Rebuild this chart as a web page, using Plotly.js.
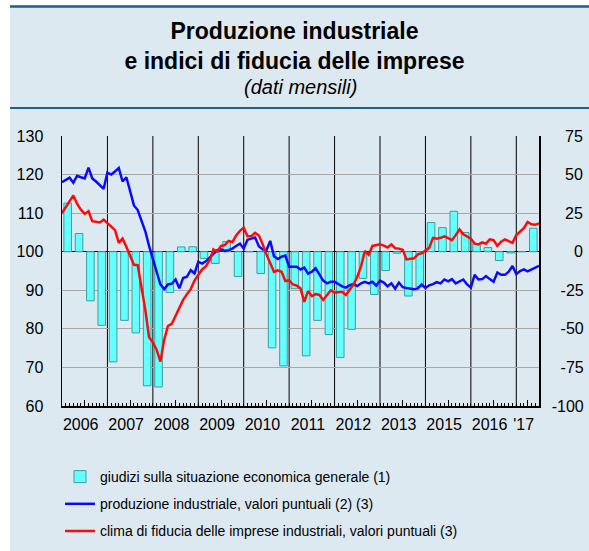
<!DOCTYPE html>
<html>
<head>
<meta charset="utf-8">
<script src="https://cdn.plot.ly/plotly-3.0.1.min.js"></script>
<style>
html,body{margin:0;padding:0;background:#ffffff;}
#chart{width:589px;height:551px;}
</style>
</head>
<body>
<div id="chart"></div>
<script>
// ---- DATA ----
const yearLabels = ['2006','2007','2008','2009','2010','2011','2012','2013','2015','2016',"'17"];
const axisEndMonth = 126;

// produzione industriale, valori puntuali (indice, scala sinistra), monthly
const produzione = [
  118.0,118.6,119.2,117.9,119.7,119.3,119.0,121.8,119.0,118.2,117.3,116.3,
  120.5,120.0,120.8,121.7,118.2,119.3,115.7,112.0,110.8,108.3,105.3,101.5,
  97.8,94.8,91.5,90.3,91.5,91.7,92.8,90.5,93.2,93.5,95.2,94.4,
  97.4,96.9,97.5,98.5,99.5,100.4,100.6,100.2,100.4,100.8,101.5,102.1,
  100.8,103.1,103.4,103.7,101.4,100.6,100.4,102.8,98.8,98.1,98.7,99.0,
  96.1,96.1,96.1,95.4,95.9,94.3,94.8,95.7,94.0,92.5,91.8,92.2,
  92.2,91.5,91.0,90.7,91.3,91.6,91.1,91.8,92.2,91.8,92.2,91.2,
  92.5,92.0,91.0,91.8,90.4,92.0,90.8,90.6,90.5,90.3,90.5,91.5,
  90.6,91.3,91.6,92.1,91.8,92.8,92.3,92.9,91.8,92.3,92.8,91.5,
  90.7,94.0,92.8,92.9,93.7,92.9,92.2,94.6,94.0,94.0,94.8,96.3,
  94.2,95.0,95.4,94.9,95.4,95.7,96.3
];

// clima di fiducia delle imprese industriali (indice, scala sinistra), monthly
const clima = [
  110.0,111.6,113.2,114.6,112.4,110.9,109.8,110.5,107.9,107.7,107.6,108.3,
  107.4,106.5,105.6,102.3,103.4,101.3,99.1,96.6,96.5,91.0,85.0,77.8,
  76.5,74.6,71.5,77.2,80.8,81.3,83.5,85.5,87.5,89.0,90.3,92.5,
  94.0,95.4,96.2,97.8,100.6,100.0,101.5,101.7,102.8,102.5,104.2,105.4,
  106.2,104.0,104.0,104.9,104.2,102.0,99.3,97.0,94.8,95.2,94.8,92.4,
  92.6,91.5,91.2,90.5,87.0,89.8,88.5,89.0,88.8,87.5,88.8,90.0,
  89.4,89.5,89.6,88.8,90.2,91.5,93.5,96.2,100.2,99.2,101.5,101.8,
  101.9,101.6,101.1,101.9,100.9,100.8,100.5,98.0,98.1,98.3,99.3,99.6,
  100.3,101.0,103.6,103.4,103.6,104.0,103.5,103.0,104.3,105.8,104.5,104.0,
  103.4,102.1,101.9,102.4,102.1,103.2,103.0,101.5,102.6,103.2,102.8,102.3,
  104.3,105.2,106.1,107.7,107.1,107.0,107.3
];

// giudizi sulla situazione economica generale (saldi, scala destra), quarterly
const giudizi = [
  31.5,11.8,-31.8,-47.7,
  -71.4,-44.5,-52.6,-86.9,
  -87.7,-26.4,3.1,3.2,
  -4.4,-7.6,6.6,-16.0,
  0.0,-14.1,-62.3,-74.0,
  -24.0,-67.5,-44.5,-53.7,
  -68.6,-50.3,-17.3,-27.7,
  -12.2,-1.0,-28.7,-22.7,
  18.9,15.6,26.2,12.4,
  5.3,2.7,-5.7,-0.8,
  0.0,15.2
];

const leftTicks = [60,70,80,90,100,110,120,130];
const rightTicks = [-100,-75,-50,-25,0,25,50,75];

const names = [
  'giudizi sulla situazione economica generale (1)',
  'produzione industriale, valori puntuali (2) (3)',
  'clima di fiducia delle imprese industriali, valori puntuali (3)'
];

// ---- derived positions ----
const monthX = produzione.map((_, i) => i);
const quarterX = giudizi.map((_, q) => 3 * q + 1.5);
const yearStarts = yearLabels.map((_, i) => 12 * i);
const yearMids = yearStarts.map(s => (s + Math.min(s + 12, axisEndMonth)) / 2);

// right-align right axis labels with figure / punctuation spaces
function widthUnits(s){ let w=0; for(const c of s){ w += (c==='-')?0.6:1; } return w; }
const maxW = Math.max(...rightTicks.map(v => widthUnits(String(v))));
const rightText = rightTicks.map(v => {
  const s = String(v); let need = maxW - widthUnits(s); let pad='';
  while(need >= 0.75){ pad += '\u2007'; need -= 1; }
  if(need >= 0.25){ pad += '\u2008'; }
  return pad + s;
});

const FONT = 'Liberation Sans, Arial, Helvetica, sans-serif';
const BG = '#dde9f1';
const TEAL = '#1f6084';

const traces = [
  {
    type:'bar', x:quarterX, y:giudizi, width:2, yaxis:'y', xaxis:'x',
    name:names[0], legendgroup:'g1',
    marker:{color:'#66ffff', line:{color:'#3a9f9f', width:1}},
    hoverinfo:'skip'
  },
  {
    type:'scatter', mode:'lines', x:monthX, y:produzione, yaxis:'y2', xaxis:'x',
    name:names[1], legendgroup:'g2',
    line:{color:'#0a0aff', width:2.5}, hoverinfo:'skip'
  },
  {
    type:'scatter', mode:'lines', x:monthX, y:clima, yaxis:'y2', xaxis:'x',
    name:names[2], legendgroup:'g3',
    line:{color:'#ff0a0a', width:2.5}, hoverinfo:'skip'
  }
];

// year separators (vertical black lines at year boundaries)
const shapes = yearStarts.slice(1).map(s => ({
  type:'line', xref:'x', yref:'y', x0:s, x1:s, y0:-100, y1:75,
  line:{color:'#000', width:1}, layer:'below'
}));

// page decorations: light-blue panel and teal rules
const W = 589, H = 551, ML = 62, MR = 50, MT = 136, MB = 145;
const PW = W - ML - MR, PH = H - MT - MB;
const px = x => (x - ML) / PW;
const py = y => (H - MB - y) / PH;
shapes.push({type:'rect', xref:'paper', yref:'paper', x0:px(10), x1:px(600), y0:py(560), y1:py(6.5),
  fillcolor:BG, line:{width:0}, layer:'below'});
shapes.push({type:'line', xref:'paper', yref:'paper', x0:px(10), x1:px(600), y0:py(6.5), y1:py(6.5),
  line:{color:TEAL, width:2.5}, layer:'above'});
shapes.push({type:'line', xref:'paper', yref:'paper', x0:px(10), x1:px(600), y0:py(108), y1:py(108),
  line:{color:TEAL, width:2}, layer:'above'});

const layout = {
  width:W, height:H,
  margin:{l:ML, r:MR, t:MT, b:MB, pad:0, autoexpand:false},
  paper_bgcolor:'#ffffff', plot_bgcolor:'#ffffff',
  font:{family:FONT, color:'#000', size:16},
  showlegend:true,
  title:{
    text:'<b>Produzione industriale<br>e indici di fiducia delle imprese</b>',
    font:{family:FONT, size:23, color:'#000'},
    x:0.5, xref:'container', xanchor:'center',
    y:1 - 39/H, yref:'container', yanchor:'top'
  },
  annotations:[{
    text:'<i>(dati mensili)</i>', xref:'paper', yref:'paper',
    x:px(300), y:py(87), xanchor:'center', yanchor:'middle',
    showarrow:false, font:{family:FONT, size:20, color:'#000'}
  }],
  bargap:0,
  xaxis:{
    range:[0, axisEndMonth], tickmode:'array', tickvals:yearMids, ticktext:yearLabels,
    ticks:'inside', ticklen:6, tickwidth:1, tickcolor:'#000',
    minor:{tickmode:'linear', tick0:0, dtick:1, ticks:'inside', ticklen:3.5, tickwidth:1, tickcolor:'#000', showgrid:false},
    showgrid:false, zeroline:false, showline:true, linecolor:'#000', linewidth:1.5,
    ticklabelshift:-4, ticklabelstandoff:3, tickfont:{size:16, family:FONT}, fixedrange:true
  },
  yaxis:{
    range:[-100, 75], side:'right', tickmode:'array', tickvals:rightTicks, ticktext:rightText,
    showgrid:true, gridcolor:'#a8a8a8', gridwidth:1,
    zeroline:true, zerolinecolor:'#000', zerolinewidth:1.5,
    showline:true, linecolor:'#000', linewidth:1.5, ticks:'',
    ticklabelstandoff:8, tickfont:{size:16, family:FONT}, fixedrange:true
  },
  yaxis2:{
    range:[60, 130], overlaying:'y', side:'left', tickmode:'array', tickvals:leftTicks,
    showgrid:false, zeroline:false, showline:true, linecolor:'#000', linewidth:1.5, ticks:'',
    ticklabelstandoff:14, tickfont:{size:16, family:FONT}, fixedrange:true
  },
  legend:{
    x:px(60), xanchor:'left', y:py(461), yanchor:'top',
    orientation:'v', traceorder:'grouped', tracegroupgap:6,
    bgcolor:'rgba(0,0,0,0)', font:{family:FONT, size:14, color:'#000'}
  },
  shapes:shapes
};

Plotly.newPlot('chart', traces, layout, {staticPlot:true, displayModeBar:false});
</script>
</body>
</html>
